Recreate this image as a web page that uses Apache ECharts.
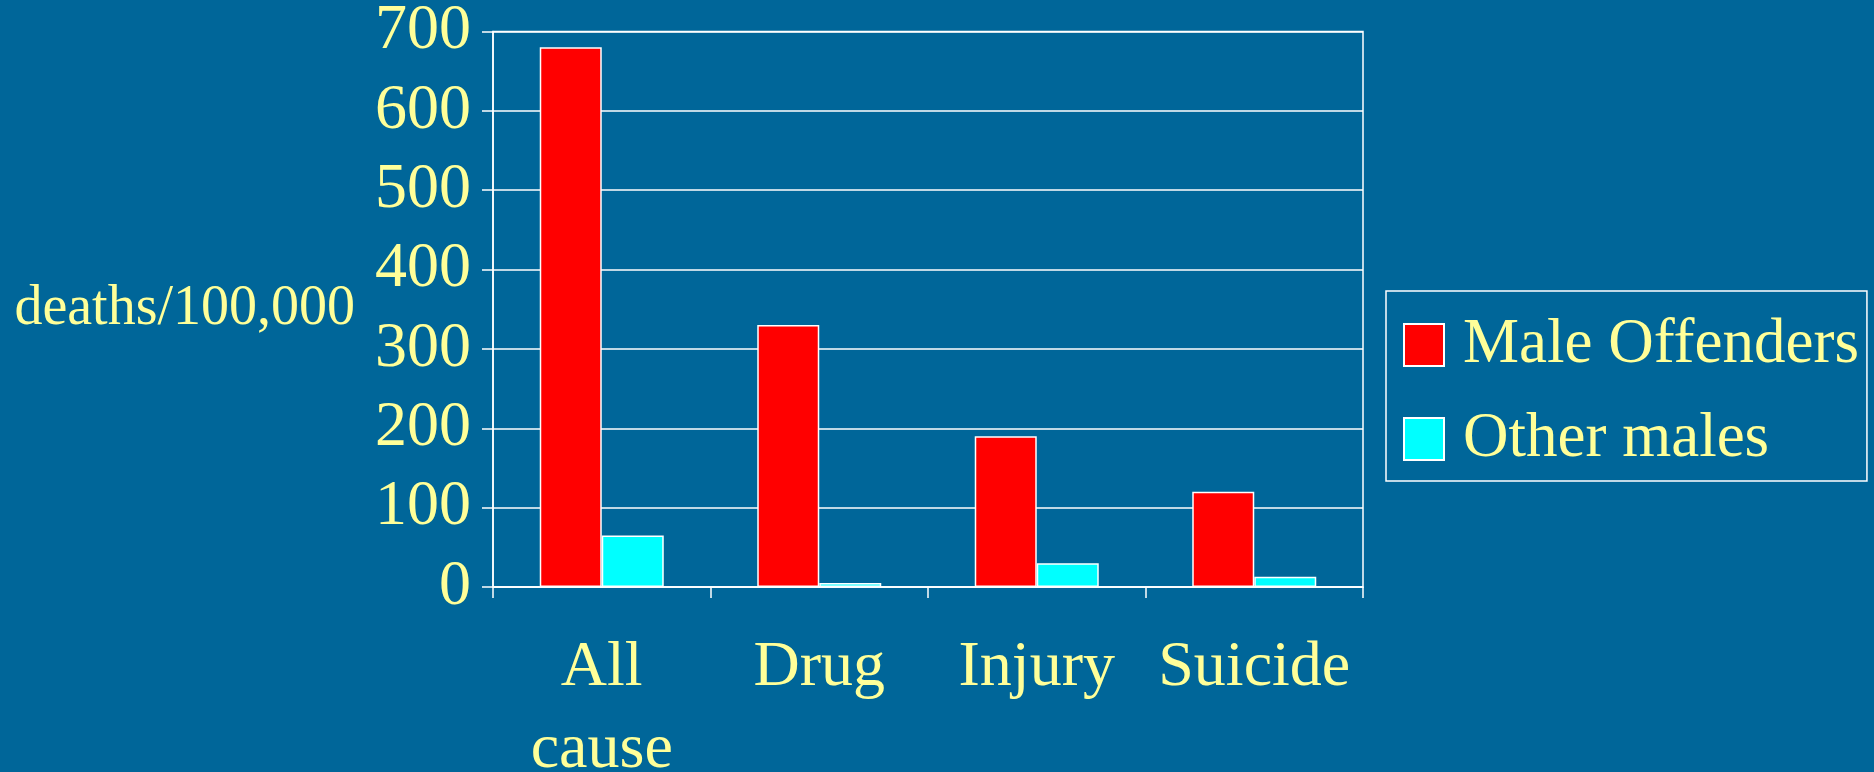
<!DOCTYPE html>
<html>
<head>
<meta charset="utf-8">
<script src="https://cdn.jsdelivr.net/npm/echarts@6/dist/echarts.min.js"></script>
<style>
html,body{margin:0;padding:0;background:#006699;}
#chart{width:1874px;height:772px;}
</style>
</head>
<body>
<div id="chart"></div>
<script>
var categories = ["All\ncause", "Drug", "Injury", "Suicide"];
var maleOffenders = [680, 330, 190, 120];
var otherMales = [65, 5, 30, 13];
var seriesNames = ["Male Offenders", "Other males"];
var yTicks = [0, 100, 200, 300, 400, 500, 600, 700];
var yAxisTitle = "deaths/100,000";

var FONT = '"Liberation Serif", "Times New Roman", serif';
var TXT = '#FFFF99';
var chart = echarts.init(document.getElementById('chart'), null, {renderer: 'canvas'});
chart.setOption({
  backgroundColor: '#006699',
  animation: false,
  textStyle: {fontFamily: FONT},
  grid: {
    left: 493, right: 511, top: 31.5, bottom: 185,
    containLabel: false, outerBoundsMode: 'none',
    show: true, borderColor: '#FFFFFF', borderWidth: 1.5, backgroundColor: 'transparent'
  },
  legend: {
    orient: 'vertical',
    left: 1386, top: 291,
    itemWidth: 40, itemHeight: 42, itemGap: 30,
    padding: [22, 8, 10, 17],
    borderColor: '#FFFFFF', borderWidth: 1.5,
    icon: 'rect',
    textStyle: {color: TXT, fontSize: 63, fontFamily: FONT, lineHeight: 64, padding: [0, 0, 0, 14]},
    data: seriesNames
  },
  xAxis: {
    type: 'category',
    data: categories,
    axisLine: {lineStyle: {color: '#FFFFFF', width: 1.5}},
    axisTick: {show: true, interval: 0, length: 11, lineStyle: {color: '#FFFFFF', width: 1.5}},
    axisLabel: {interval: 0, color: TXT, fontSize: 64, fontFamily: FONT, margin: 40, lineHeight: 82}
  },
  yAxis: {
    type: 'value',
    min: yTicks[0], max: yTicks[yTicks.length - 1], interval: 100,
    name: yAxisTitle,
    nameLocation: 'middle',
    nameRotate: 0,
    nameGap: 138,
    nameTextStyle: {color: TXT, fontSize: 56, fontFamily: FONT, padding: [14, 0, 0, 0]},
    axisLine: {show: true, lineStyle: {color: '#FFFFFF', width: 1.5}},
    axisTick: {show: true, length: 11, lineStyle: {color: '#FFFFFF', width: 1.5}},
    splitLine: {show: true, lineStyle: {color: '#FFFFFF', width: 1.5}},
    axisLabel: {color: TXT, fontSize: 64, fontFamily: FONT, margin: 22, padding: [8, 0, 0, 0]}
  },
  series: [
    {
      name: seriesNames[0], type: 'bar', data: maleOffenders,
      barWidth: 62, barGap: '0%',
      itemStyle: {color: '#FF0000', borderColor: '#FFFFFF', borderWidth: 1.5}
    },
    {
      name: seriesNames[1], type: 'bar', data: otherMales,
      barWidth: 62, barGap: '0%',
      itemStyle: {color: '#00FFFF', borderColor: '#FFFFFF', borderWidth: 1.5}
    }
  ]
});
</script>
</body>
</html>
